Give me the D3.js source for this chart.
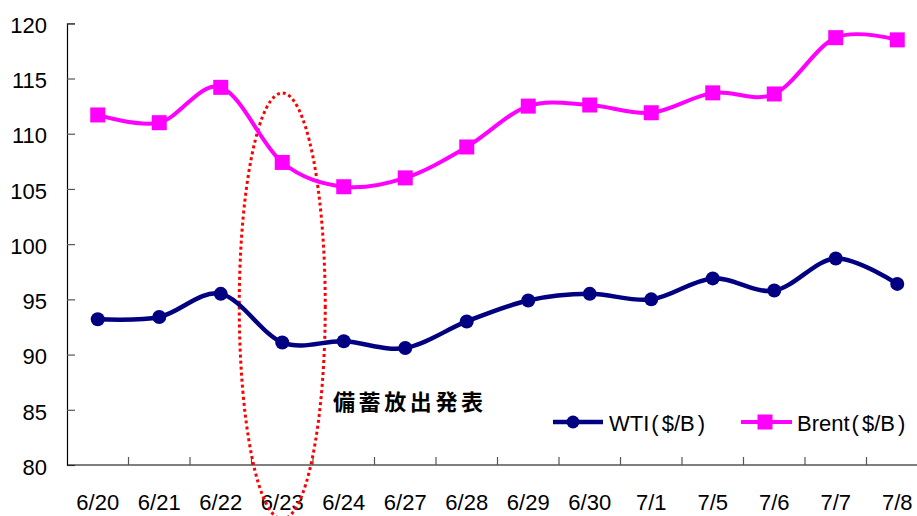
<!DOCTYPE html>
<html>
<head>
<meta charset="utf-8">
<script src="https://cdn.jsdelivr.net/npm/d3@7"></script>
<style>
  html, body { margin: 0; padding: 0; background: #fff; }
  svg { display: block; }
</style>
</head>
<body>
<svg id="chart" width="917" height="516"></svg>
<script>
const categories = ["6/20","6/21","6/22","6/23","6/24","6/27","6/28","6/29","6/30","7/1","7/5","7/6","7/7","7/8"];
const wti   = [93.2, 93.4, 95.5, 91.1, 91.2, 90.6, 93.0, 94.9, 95.5, 95.0, 96.9, 95.8, 98.7, 96.4];
const brent = [111.7, 111.0, 114.2, 107.4, 105.2, 106.0, 108.8, 112.5, 112.6, 111.9, 113.7, 113.6, 118.7, 118.5];
const yTicks = [80, 85, 90, 95, 100, 105, 110, 115, 120];
const seriesNames = ["WTI($/B)", "Brent($/B)"];
const annotation = "備蓄放出発表";
const annotationCategory = "6/23";

const svg = d3.select("#chart");
const font = "'Liberation Sans', Arial, sans-serif";

const x = d3.scaleBand().domain(categories).range([67, 67 + 61.5 * categories.length]);
const y = d3.scaleLinear().domain([80, 120]).range([465, 23.3]);
const cx = c => x(c) + x.bandwidth() / 2;

// Y axis
const yAxis = svg.append("g").attr("transform", "translate(67,0)")
  .call(d3.axisLeft(y).tickValues(yTicks).tickSize(-8).tickPadding(20).tickFormat(d3.format("d")));
yAxis.select(".domain").attr("stroke", "#000").attr("stroke-width", 1.2);
yAxis.selectAll(".tick line").attr("stroke", "#555").attr("stroke-width", 1.2);
yAxis.selectAll(".tick text").attr("font-family", font).attr("font-size", 22).attr("fill", "#000").attr("dy", "0.42em");

// X axis line
svg.append("line").attr("x1", 67).attr("x2", 917).attr("y1", y(80)).attr("y2", y(80))
  .attr("stroke", "#000").attr("stroke-width", 1.2);
// X ticks at band boundaries
svg.append("g").selectAll("line").data(categories.slice(1)).join("line")
  .attr("x1", d => x(d)).attr("x2", d => x(d))
  .attr("y1", y(80)).attr("y2", y(80) - 8)
  .attr("stroke", "#555").attr("stroke-width", 1.2);
// X labels
svg.append("g").selectAll("text").data(categories).join("text")
  .attr("x", d => cx(d)).attr("y", 510)
  .attr("text-anchor", "middle")
  .attr("font-family", font).attr("font-size", 22).attr("fill", "#000")
  .text(d => d);

// Annotation ellipse
svg.append("ellipse")
  .attr("cx", cx(annotationCategory)).attr("cy", 306)
  .attr("rx", 43).attr("ry", 213)
  .attr("fill", "none").attr("stroke", "#FF0000")
  .attr("stroke-width", 3).attr("stroke-dasharray", "3 3");

// Lines
const line = d3.line().x((d, i) => cx(categories[i])).y(d => y(d)).curve(d3.curveCatmullRom.alpha(0));

svg.append("path").datum(brent).attr("d", line)
  .attr("fill", "none").attr("stroke", "#FF00FF").attr("stroke-width", 4);
svg.append("g").selectAll("rect").data(brent).join("rect")
  .attr("x", (d, i) => cx(categories[i]) - 7.5).attr("y", d => y(d) - 7.5)
  .attr("width", 15).attr("height", 15).attr("fill", "#FF00FF");

svg.append("path").datum(wti).attr("d", line)
  .attr("fill", "none").attr("stroke", "#000080").attr("stroke-width", 4.5);
svg.append("g").selectAll("circle").data(wti).join("circle")
  .attr("cx", (d, i) => cx(categories[i])).attr("cy", d => y(d))
  .attr("r", 7).attr("fill", "#000080");

// Annotation text
svg.append("text").attr("x", 333).attr("y", 410)
  .attr("font-family", "'Noto Sans CJK JP', sans-serif").attr("font-weight", "bold")
  .attr("font-size", 22).attr("letter-spacing", 3.6).attr("fill", "#000")
  .text(annotation);

// Legend
function legendText(g, xPos, name) {
  const m = name.match(/^(.*)\((.*)\)$/);
  const t = g.append("text").attr("x", xPos).attr("y", 431)
    .attr("font-family", font).attr("font-size", 22).attr("fill", "#000");
  t.append("tspan").text(m[1]);
  t.append("tspan").attr("dx", 2).text("(");
  t.append("tspan").attr("dx", 3).text(m[2]);
  t.append("tspan").attr("dx", 3).text(")");
}
const lg = svg.append("g");
lg.append("line").attr("x1", 553).attr("x2", 603).attr("y1", 422).attr("y2", 422)
  .attr("stroke", "#000080").attr("stroke-width", 4.5);
lg.append("circle").attr("cx", 573).attr("cy", 422).attr("r", 6.5).attr("fill", "#000080");
legendText(lg, 609, seriesNames[0]);

lg.append("line").attr("x1", 741).attr("x2", 792).attr("y1", 422).attr("y2", 422)
  .attr("stroke", "#FF00FF").attr("stroke-width", 4);
lg.append("rect").attr("x", 757.5).attr("y", 414.5).attr("width", 15).attr("height", 15).attr("fill", "#FF00FF");
legendText(lg, 797, seriesNames[1]);
</script>
</body>
</html>
